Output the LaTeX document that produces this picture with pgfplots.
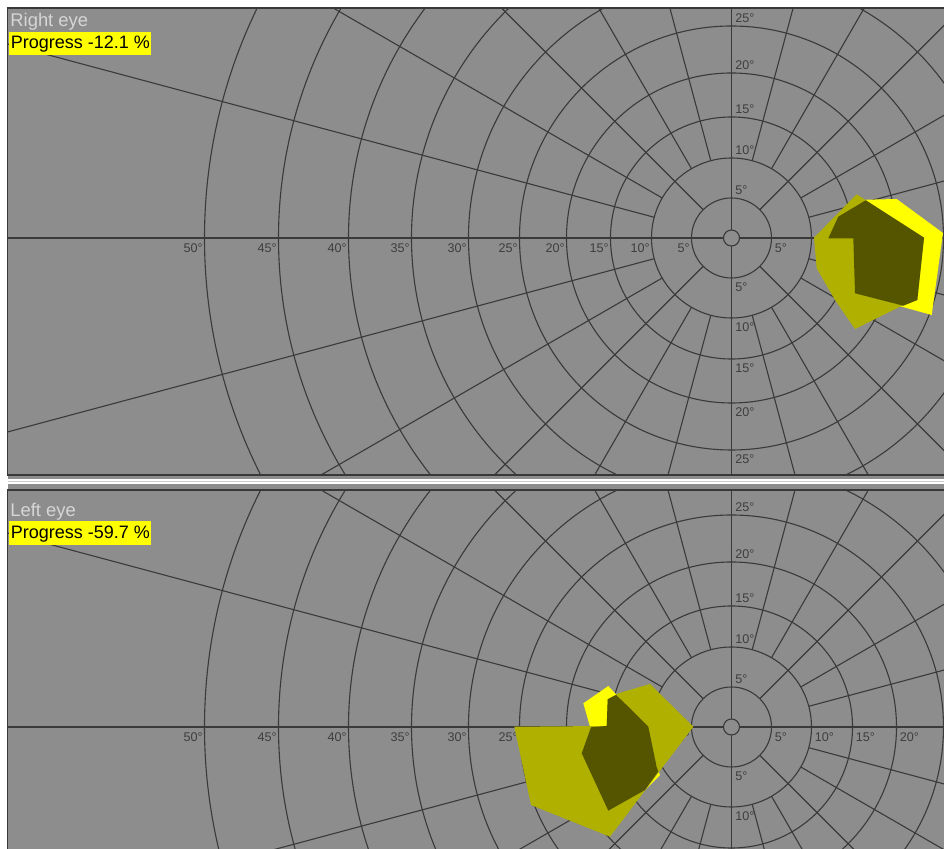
\documentclass[border=0pt]{standalone}
\usepackage{fontspec}
\setmainfont{Liberation Sans}
\usepackage{pgfplots}
\pgfplotsset{compat=1.18}
\definecolor{panelgray}{RGB}{141,141,141}
\definecolor{gridc}{RGB}{58,58,58}
\definecolor{labc}{RGB}{62,62,62}
\definecolor{yel}{RGB}{255,255,0}
\definecolor{oli}{RGB}{176,176,0}
\definecolor{darkoli}{RGB}{85,85,0}
\definecolor{eyec}{RGB}{214,214,214}
\definecolor{sepc}{RGB}{205,205,205}

% grid of one panel, centre (#1,#2) in picture pixels
\newcommand\fieldgrid[2]{%
  \begin{scope}[shift={(#1,#2)}]
    \foreach \r in {8,40,80,121,165,212,263,320,383,453,527}
      \draw[gridc, line width=0.55pt] (0,0) circle[radius=\r*0.5pt];
    \foreach \a in {0,90,180,270}
      \draw[gridc, line width=0.55pt] (\a:4pt) -- (\a:700pt);
    \foreach \a in {45,135,225,315}
      \draw[gridc, line width=0.55pt] (\a:20pt) -- (\a:700pt);
    \foreach \a in {15,30,60,75,105,120,150,165,195,210,240,255,285,300,330,345}
      \draw[gridc, line width=0.55pt] (\a:40pt) -- (\a:700pt);
  \end{scope}}

\newcommand\labfont{\fontsize{6.3}{7}\selectfont}
\newcommand\hleftlabels[2]{%
  \foreach \d/\r in {5/40,10/80,15/121,20/165,25/212,30/263,35/320,40/383,45/453,50/527}
    \node[anchor=north east, inner sep=0pt, text=labc, font=\labfont] at (#1-\r-1.5,#2+5) {\d°};}
\newcommand\hrightlabels[3]{%
  \foreach \d/\r in {#3}
    \node[anchor=north west, inner sep=0pt, text=labc, font=\labfont] at (#1+\r+3,#2+5) {\d°};}
\newcommand\vuplabels[3]{%
  \foreach \d/\r in {#3}
    \node[anchor=south west, inner sep=0pt, text=labc, font=\labfont] at (#1+3.5,#2-\r-3) {\d°};}
\newcommand\vdownlabels[3]{%
  \foreach \d/\r in {#3}
    \node[anchor=north west, inner sep=0pt, text=labc, font=\labfont] at (#1+3.5,#2+\r+4) {\d°};}

\begin{document}
\begin{tikzpicture}
\useasboundingbox (0pt,0pt) rectangle (472pt,-424.5pt);
\clip (0pt,0pt) rectangle (472pt,-424.5pt);
\begin{scope}[x=0.5pt, y=-0.5pt]
\fill[white] (0,0) rectangle (944,849);
% ---------- top panel background and grid ----------
\fill[panelgray] (7.5,8) rectangle (944,475);
\begin{scope}
  \clip (7.5,8) rectangle (944,475);
  \fieldgrid{731.5}{238}
  \hleftlabels{731.5}{238}
  \hrightlabels{731.5}{238}{5/40,10/80,15/121,20/165}
  \vuplabels{731.5}{238}{5/40,10/80,15/121,20/165,25/212}
  \vdownlabels{731.5}{238}{5/40,10/80,15/121,20/165,25/212}
\end{scope}
% ---------- bottom panel background and grid ----------
\fill[panelgray] (7.5,490) rectangle (944,849);
\begin{scope}
  \clip (7.5,490) rectangle (944,849);
  \fieldgrid{731.5}{727}
  \hleftlabels{731.5}{727}
  \hrightlabels{731.5}{727}{5/40,10/80,15/121,20/165}
  \vuplabels{731.5}{727}{5/40,10/80,15/121,20/165,25/212}
  \vdownlabels{731.5}{727}{5/40,10/80}
\end{scope}
\end{scope}

% ---------- right eye isopters ----------
\begin{axis}[at={(3.75pt,-237.5pt)}, anchor=south west, x=0.5pt, y=0.5pt,
  xmin=-724, xmax=212.5, ymin=-237, ymax=230, hide axis, clip=true]
  \addplot[fill=yel, draw=none, mark=none] coordinates {
    (135.2,38.3) (165.2,39) (211.5,5) (200.2,-77) (170.2,-68.7)
    (123.5,-55.3) (121.8,-0.3) (96.8,-0.3) (106.8,21.3)};
  \addplot[fill=oli, draw=none, mark=none] coordinates {
    (125.2,43.7) (192.5,0.3) (185.8,-62) (168.5,-68.7) (123.5,-91)
    (103.5,-62) (85.2,-30.3) (82.5,0.3)};
  \addplot[fill=darkoli, draw=none, mark=none] coordinates {
    (96.8,-0.3) (106.8,21.3) (134.2,37.7) (192.5,0.3) (185.8,-62)
    (171.8,-67.7) (123.5,-55.3) (121.8,-0.3)};
\end{axis}

% ---------- left eye isopters ----------
\begin{axis}[at={(3.75pt,-424.5pt)}, anchor=south west, x=0.5pt, y=0.5pt,
  xmin=-724, xmax=212.5, ymin=-122, ymax=237, hide axis, clip=true]
  \addplot[fill=yel, draw=none, mark=none] coordinates {
    (-148.2,23.7) (-123.2,41) (-114.8,32) (-101.5,18.7) (-83.2,0.3)
    (-74.8,-40.3) (-71.5,-48) (-86.5,-63) (-123.2,-83.7) (-149.8,-26.3)
    (-141.5,0.3)};
  \addplot[fill=oli, draw=none, mark=none] coordinates {
    (-217.2,0.3) (-124.8,1) (-123.8,27.7) (-113.2,33.7) (-81.5,43)
    (-38.2,0.3) (-121.5,-109.7) (-200.5,-78)};
  \addplot[fill=darkoli, draw=none, mark=none] coordinates {
    (-140.5,-0.3) (-124.8,1) (-123.8,27.7) (-115.5,32) (-101.5,18.7)
    (-83.2,0.3) (-74.8,-40.3) (-73.2,-44.3) (-86.5,-63) (-123.2,-83.7)
    (-149.8,-26.3)};
\end{axis}

\begin{scope}[x=0.5pt, y=-0.5pt]
% ---------- separator and frames ----------
\fill[panelgray] (7.5,475) rectangle (944,490);
\fill[white] (7.5,479) rectangle (944,484.5);
\draw[sepc, line width=0.4pt] (7.5,481.7) -- (944,481.7);
\draw[black!78, line width=0.8pt] (944,8) -- (7.5,8) -- (7.5,475) -- (944,475);
\draw[black!78, line width=0.8pt] (944,490) -- (7.5,490) -- (7.5,849);
% ---------- titles ----------
\node[anchor=base west, inner sep=0pt, text=eyec, font=\fontsize{9.2}{10}\selectfont] at (10,26.5) {Right eye};
\fill[yel] (9.3,32) rectangle (150.7,55);
\node[anchor=base west, inner sep=0pt, text=black, font=\fontsize{9}{10}\selectfont] at (10.5,49) {Progress -12.1 \%};
\node[anchor=base west, inner sep=0pt, text=eyec, font=\fontsize{9.2}{10}\selectfont] at (10,516.5) {Left eye};
\fill[yel] (9.3,521.5) rectangle (150.7,545);
\node[anchor=base west, inner sep=0pt, text=black, font=\fontsize{9}{10}\selectfont] at (10.5,538.3) {Progress -59.7 \%};
\end{scope}
\end{tikzpicture}
\end{document}
